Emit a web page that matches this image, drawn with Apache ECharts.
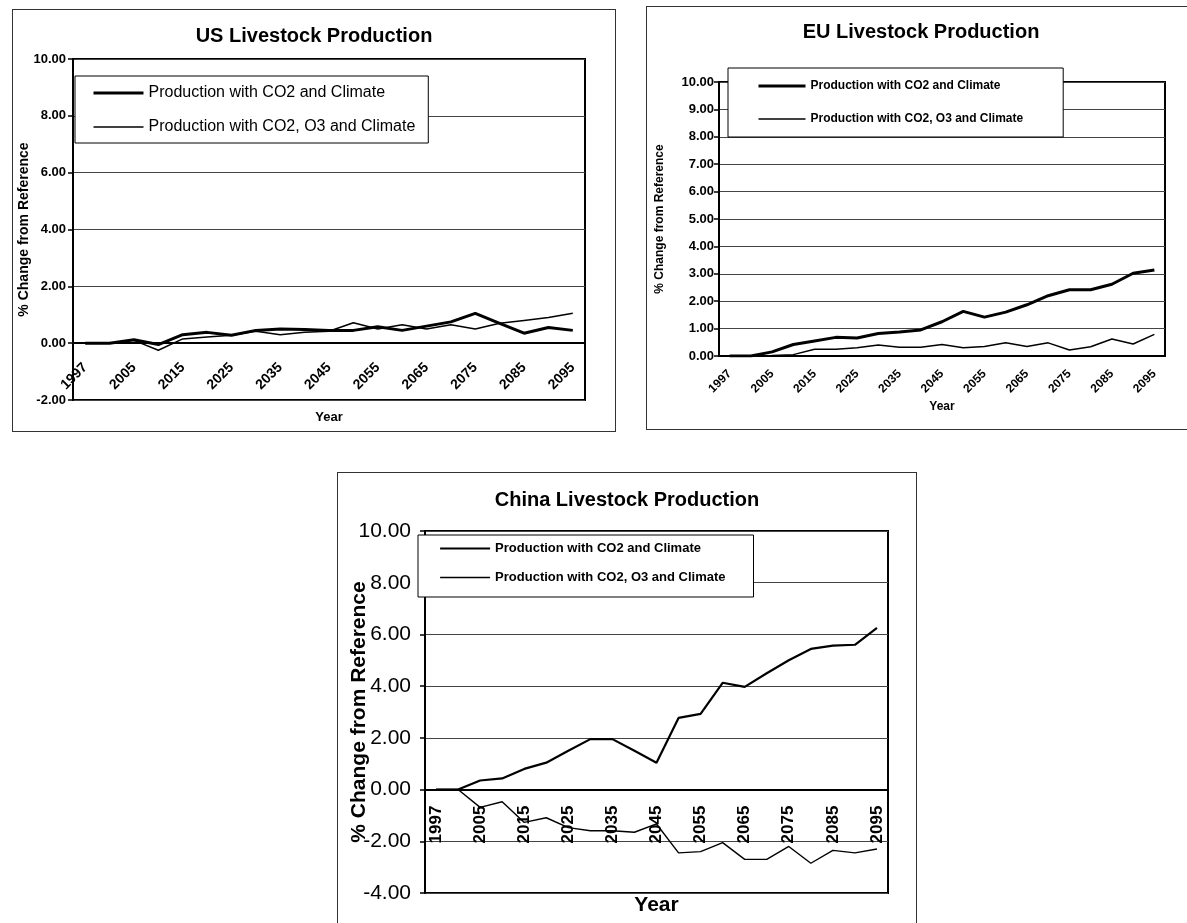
<!DOCTYPE html>
<html lang="en">
<head>
<meta charset="UTF-8">
<title>Livestock Production</title>
<script src="https://cdn.jsdelivr.net/npm/echarts@6/dist/echarts.min.js"></script>
<style>
    html,body{margin:0;padding:0;background:#fff;overflow:hidden;width:1187px;height:923px;}
    .frame{position:absolute;border:1px solid #333;box-sizing:border-box;background:#fff;}
</style>
</head>
<body>
<div id="us" class="frame" style="left:12px;top:9px;width:604px;height:423px"></div>
<div id="eu" class="frame" style="left:646px;top:6px;width:550px;height:424px"></div>
<div id="cn" class="frame" style="left:337px;top:472px;width:580px;height:460px"></div>
<script>
    // categories (one every 5 years, labels shown every other one)
    const years = ['1997','2000','2005','2010','2015','2020','2025','2030','2035','2040','2045',
                   '2050','2055','2060','2065','2070','2075','2080','2085','2090','2095'];
    const seriesNames = ['Production with CO2 and Climate', 'Production with CO2, O3 and Climate'];

    // % change from reference
    const usCO2   = [0, 0, 0.12, -0.05, 0.3, 0.38, 0.28, 0.45, 0.5, 0.48, 0.45, 0.45, 0.58, 0.45, 0.6, 0.75, 1.05, 0.7, 0.35, 0.55, 0.45];
    const usCO2O3 = [0, 0, 0.1, -0.25, 0.15, 0.22, 0.28, 0.42, 0.3, 0.38, 0.42, 0.72, 0.5, 0.65, 0.5, 0.65, 0.5, 0.7, 0.8, 0.9, 1.05];

    const euCO2   = [0, 0, 0.15, 0.42, 0.55, 0.68, 0.66, 0.82, 0.88, 0.95, 1.25, 1.63, 1.42, 1.6, 1.87, 2.2, 2.42, 2.42, 2.62, 3.02, 3.14];
    const euCO2O3 = [0, 0, 0.02, 0.05, 0.25, 0.25, 0.3, 0.4, 0.32, 0.32, 0.42, 0.3, 0.35, 0.48, 0.35, 0.48, 0.22, 0.34, 0.62, 0.44, 0.79];

    const cnCO2   = [0, 0, 0.35, 0.43, 0.8, 1.04, 1.5, 1.95, 1.95, 1.5, 1.04, 2.77, 2.93, 4.13, 3.97, 4.5, 5.0, 5.44, 5.57, 5.6, 6.25];
    const cnCO2O3 = [0, 0, -0.69, -0.47, -1.27, -1.09, -1.47, -1.59, -1.59, -1.65, -1.33, -2.45, -2.4, -2.05, -2.7, -2.7, -2.2, -2.85, -2.35, -2.45, -2.3];

    const FONT = 'Arial, "Liberation Sans", sans-serif';

    function drawChart(el, o) {
        let chart = echarts.init(el);
        let plotH = chart.getHeight() - o.grid[1] - o.grid[3];
        // the category axis sits on the 0 line, so lift it from the bottom edge
        let zeroOffset = -plotH * (0 - o.yMin) / (o.yMax - o.yMin);
        chart.setOption({
            animation: false,
            title: {
                text: o.title,
                left: 'center',
                top: o.titleTop,
                padding: 0,
                textStyle: {fontFamily: FONT, fontSize: 20, fontWeight: 'bold', color: '#000'}
            },
            legend: {
                orient: 'vertical',
                left: o.legend.left,
                top: o.legend.top,
                padding: o.legend.padding,
                itemGap: o.legend.gap,
                itemWidth: o.legend.iconW,
                itemHeight: 14,
                itemStyle: {opacity: 0},
                data: [
                    {name: seriesNames[0], lineStyle: {width: o.widths[0]}},
                    {name: seriesNames[1], lineStyle: {width: o.widths[1]}}
                ],
                backgroundColor: '#fff',
                borderColor: '#000',
                borderWidth: 1,
                borderRadius: 0,
                textStyle: {fontFamily: FONT, fontSize: o.legend.fontSize, fontWeight: o.legend.weight, color: '#000'}
            },
            grid: {
                left: o.grid[0], top: o.grid[1], right: o.grid[2], bottom: o.grid[3],
                outerBoundsMode: 'none',
                show: true, borderColor: '#000', borderWidth: 2
            },
            xAxis: {
                type: 'category',
                data: years,
                boundaryGap: true,
                offset: zeroOffset,
                name: 'Year',
                nameLocation: 'middle',
                nameGap: o.xNameGap,
                nameMoveOverlap: false,
                nameTextStyle: {fontFamily: FONT, fontSize: o.xNameSize, fontWeight: 'bold', color: '#000'},
                axisLine: {onZero: false, lineStyle: {color: '#000', width: 2}},
                axisTick: {interval: 0, length: 5, lineStyle: {color: '#000', width: 1.5}},
                axisLabel: {
                    interval: 1, rotate: o.xRotate, margin: o.xMargin, hideOverlap: false,
                    fontFamily: FONT, fontSize: o.xLabelSize, fontWeight: o.xLabelWeight, color: '#000'
                }
            },
            yAxis: {
                type: 'value',
                min: o.yMin, max: o.yMax, interval: o.yStep,
                name: '% Change from Reference',
                nameLocation: 'middle',
                nameGap: o.yNameGap,
                nameMoveOverlap: false,
                nameTextStyle: {fontFamily: FONT, fontSize: o.yNameSize, fontWeight: 'bold', color: '#000'},
                axisLine: {show: true, lineStyle: {color: '#000', width: 2}},
                axisTick: {show: true, length: 5, lineStyle: {color: '#000', width: 1.5}},
                axisLabel: {
                    margin: o.yMargin,
                    formatter: v => v.toFixed(2),
                    fontFamily: FONT, fontSize: o.yLabelSize, fontWeight: o.yLabelWeight, color: '#000'
                },
                splitLine: {lineStyle: {color: '#444', width: 1}}
            },
            series: [
                {name: seriesNames[0], type: 'line', data: o.a, symbol: 'none', z: 3,
                 itemStyle: {color: '#000'}, lineStyle: {color: '#000', width: o.widths[0]}},
                {name: seriesNames[1], type: 'line', data: o.b, symbol: 'none', z: 3,
                 itemStyle: {color: '#000'}, lineStyle: {color: '#000', width: o.widths[1]}}
            ]
        });
    }

    // US
    drawChart(document.getElementById('us'), {
        title: 'US Livestock Production', titleTop: 16,
        legend: {left: 62, top: 66, padding: [9, 13, 8, 17], gap: 18, iconW: 50, fontSize: 16, weight: 'normal'},
        grid: [60, 49, 30, 31],
        yMin: -2, yMax: 10, yStep: 2, yMargin: 7, yLabelSize: 13, yLabelWeight: 'bold',
        yNameGap: 42, yNameSize: 14,
        xRotate: 45, xMargin: 22, xLabelSize: 14, xLabelWeight: 'bold',
        xNameGap: 68, xNameSize: 13,
        a: usCO2, b: usCO2O3, widths: [3, 1.5]
    });

    // EU
    drawChart(document.getElementById('eu'), {
        title: 'EU Livestock Production', titleTop: 15,
        legend: {left: 81, top: 61, padding: [12, 40, 12, 29], gap: 21, iconW: 47, fontSize: 12, weight: 'bold'},
        grid: [72, 75, 30, 73],
        yMin: 0, yMax: 10, yStep: 1, yMargin: 5, yLabelSize: 13, yLabelWeight: 'bold',
        yNameGap: 53, yNameSize: 12,
        xRotate: 45, xMargin: 16, xLabelSize: 12, xLabelWeight: 'bold',
        xNameGap: 45, xNameSize: 12,
        a: euCO2, b: euCO2O3, widths: [3, 1.5]
    });

    // China
    drawChart(document.getElementById('cn'), {
        title: 'China Livestock Production', titleTop: 17,
        legend: {left: 80, top: 62, padding: [7, 28, 13, 21], gap: 16, iconW: 50, fontSize: 13, weight: 'bold'},
        grid: [87, 58, 28, 38],
        yMin: -4, yMax: 10, yStep: 2, yMargin: 14, yLabelSize: 21, yLabelWeight: 'normal',
        yNameGap: 55, yNameSize: 21,
        xRotate: 90, xMargin: 16, xLabelSize: 17, xLabelWeight: 'bold',
        xNameGap: 105, xNameSize: 21,
        a: cnCO2, b: cnCO2O3, widths: [2.2, 1.4]
    });
</script>
</body>
</html>
